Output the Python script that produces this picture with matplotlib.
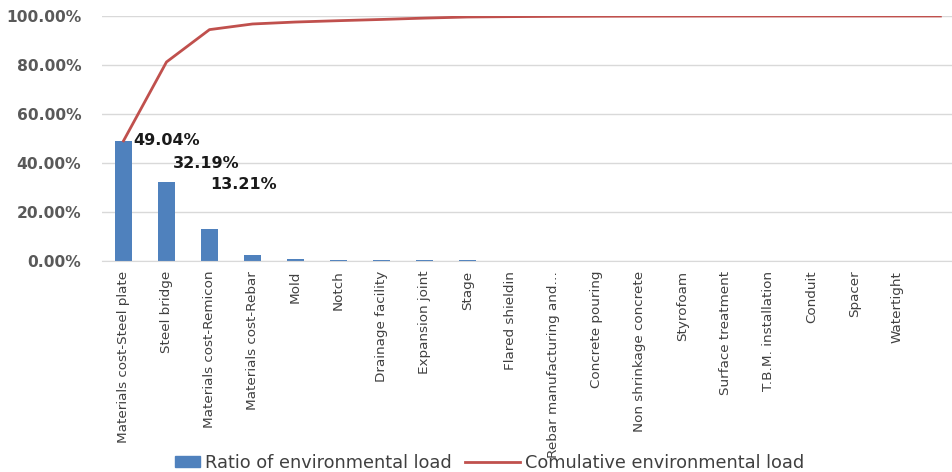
import numpy as np
import matplotlib.pyplot as plt
from matplotlib.patches import Patch
from matplotlib.lines import Line2D

categories = ['Materials cost-Steel plate', 'Steel bridge', 'Materials cost-Remicon',
              'Materials cost-Rebar', 'Mold', 'Notch', 'Drainage facility',
              'Expansion joint', 'Stage', 'Flared shieldin', 'Rebar manufacturing and\u2026',
              'Concrete pouring', 'Non shrinkage concrete', 'Styrofoam',
              'Surface treatment', 'T.B.M. installation', 'Conduit', 'Spacer',
              'Watertight', '']
ratio = [49.04, 32.19, 13.21, 2.30, 0.80, 0.55, 0.50, 0.55, 0.45, 0.15,
         0.10, 0.06, 0.04, 0.02, 0.02, 0.01, 0.01, 0.0, 0.0, 0.0]
labelled = [49.04, 32.19, 13.21]

cumulative = np.cumsum(ratio)
cumulative = cumulative / cumulative[-1] * 100

fig = plt.figure(figsize=(9.52, 4.72), dpi=100)
ax = fig.add_axes([102/952, 1 - 261/472, 1 - 102/952, (261 - 16)/472])

x = np.arange(len(categories))
ax.bar(x, ratio, width=0.4, color='#4f81bd', zorder=2)
ax.plot(x, cumulative, color='#c0504d', lw=2, zorder=3)

# data labels for the three biggest items
offsets = [(0.7, 0), (-1.5, 13.5), (-6, 32)]
for i, v in enumerate(labelled):
    ax.annotate('{:.2f}%'.format(v), (x[i] + 0.2, v), xytext=offsets[i],
                textcoords='offset points', ha='left', va='center',
                fontsize=11.5, fontweight='bold', color='#1a1a1a')

ax.set_ylim(0, 100)
ax.set_xlim(-0.5, 19.27)
ax.set_yticks(np.arange(0, 101, 20))
ax.set_yticklabels(['{:.2f}%'.format(t) for t in np.arange(0, 101, 20)],
                   fontsize=11.2, fontweight='bold', color='#595959')
ax.set_xticks(x)
ax.set_xticklabels(categories, rotation=90, fontsize=9.7, color='#404040',
                   family=['Liberation Sans Narrow', 'DejaVu Sans'])
ax.tick_params(axis='both', length=0)
ax.tick_params(axis='y', pad=15)
ax.tick_params(axis='x', pad=7)
ax.yaxis.grid(True, color='#d9d9d9', lw=1, zorder=0)
for s in ['top', 'right', 'left']:
    ax.spines[s].set_visible(False)
ax.spines['bottom'].set_color('#d9d9d9')
ax.set_axisbelow(True)

# two legend entries, each with its own handle length like the original
leg_kw = dict(loc='center left', frameon=False, fontsize=12.8, borderpad=0,
              borderaxespad=0, handletextpad=0.3, labelcolor='#404040')
fig.legend([Patch(color='#4f81bd')], ['Ratio of environmental load'],
           bbox_to_anchor=(175/952, 1 - 463/472), handlelength=1.4, handleheight=0.55, **leg_kw)
fig.legend([Line2D([], [], color='#c0504d', lw=2)], ['Comulative environmental load'],
           bbox_to_anchor=(465/952, 1 - 463/472), handlelength=3.1, **leg_kw)

fig.savefig('out.png', dpi=100)
